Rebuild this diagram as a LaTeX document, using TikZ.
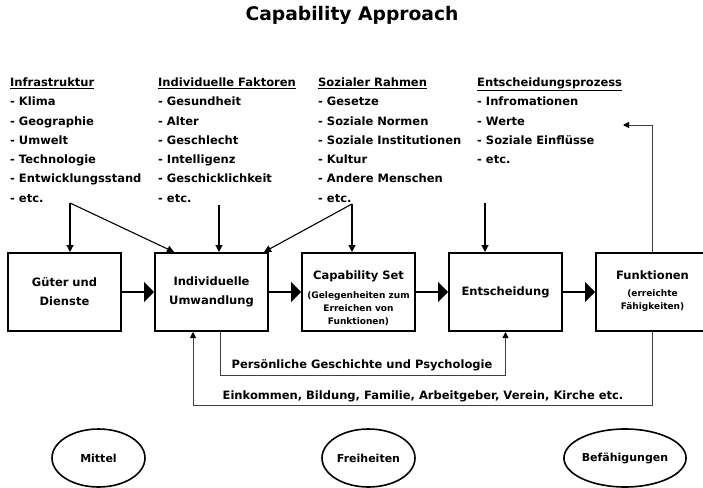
\documentclass[tikz,border=0pt]{standalone}
\usepackage{fontspec}
\setmainfont{DejaVu Sans}
\usetikzlibrary{arrows.meta,calc,positioning,shapes.geometric}
\newcommand{\klein}{\fontsize{9}{13}\selectfont}
\tikzset{
  box/.style={draw,line width=2pt,minimum width=113pt,minimum height=78pt,inner sep=0pt,align=center,font=\bfseries\fontsize{11.5}{19}\selectfont},
  boxtext/.style={inner sep=0pt,align=center,font=\bfseries\fontsize{11.5}{19}\selectfont},
  liste/.style={anchor=north west,inner sep=0pt,align=left,font=\bfseries\fontsize{11.5}{19.3}\selectfont},
  ziel/.style={draw,ellipse,line width=1.6pt,minimum width=93pt,minimum height=58pt,inner sep=0pt,font=\bfseries\fontsize{11}{13}\selectfont},
  fluss/.style={line width=2pt,-{Triangle[length=10pt,width=20pt]}},
  pfeil/.style={line width=1.1pt,-{Triangle[length=7pt,width=7pt]}},
  rueck/.style={line width=0.9pt,black!75,-{Triangle[length=6pt,width=6pt,color=black]}}
}
\begin{document}
\begin{tikzpicture}[x=1pt,y=-1pt]
\path[use as bounding box,clip] (0,0) rectangle (703,487);
\node[font=\bfseries\fontsize{18.7}{22}\selectfont] (titel) at (352,15) {Capability Approach};
% Einflussfaktoren
\node[liste] (infra) at (10,77.5) {\underline{Infrastruktur}\\- Klima\\- Geographie\\- Umwelt\\- Technologie\\- Entwicklungsstand\\- etc.};
\node[liste] (faktoren) at (158,77.5) {\underline{Individuelle Faktoren}\\- Gesundheit\\- Alter\\- Geschlecht\\- Intelligenz\\- Geschicklichkeit\\- etc.};
\node[liste] (rahmen) at (318,77.5) {\underline{Sozialer Rahmen}\\- Gesetze\\- Soziale Normen\\- Soziale Institutionen\\- Kultur\\- Andere Menschen\\- etc.};
\node[liste] (prozess) at (477,77.5) {\underline{Entscheidungsprozess}\\- Infromationen\\- Werte\\- Soziale Einflüsse\\- etc.};
% Kette
\node[box] (gueter) at (64.5,292) {Güter und\\Dienste};
\node[box] (umw) at (211.5,292) {Individuelle\\Umwandlung};
\node[box] (cset) at (358.5,292) {};
\node[box] (entsch) at (505.5,292) {Entscheidung};
\node[box] (funk) at (652.5,292) {};
\node[boxtext,anchor=north] (csettext) at (358.5,270.5) {Capability Set\\[0.3pt]\klein\begin{tabular}[t]{@{}c@{}}(Gelegenheiten zum\\Erreichen von\\Funktionen)\end{tabular}};
\node[boxtext,anchor=north] (funktext) at (652.5,270.5) {Funktionen\\[-2pt]\klein\begin{tabular}[t]{@{}c@{}}(erreichte\\Fähigkeiten)\end{tabular}};
\foreach \a/\b in {gueter/umw,umw/cset,cset/entsch,entsch/funk}
  \draw[fluss] (\a) -- (\b);
% Einfluesse von oben
\coordinate (qinfra) at (70,203);
\coordinate (qfakt) at (219,205);
\coordinate (qrahmen) at (352,204);
\coordinate (qproz) at (485,203);
\draw[pfeil] (qinfra) -- (qinfra |- gueter.north);
\draw[pfeil] (qinfra) -- ($(umw.north west)+(20,0)$);
\draw[pfeil] (qfakt) -- (qfakt |- umw.north);
\draw[pfeil] (qrahmen) -- ($(umw.north east)+(-5,0)$);
\draw[pfeil] (qrahmen) -- (qrahmen |- cset.north);
\draw[pfeil] (qproz) -- (qproz |- entsch.north);
% Rueckkopplungen
\coordinate (rziel) at (623,125);
\draw[rueck] (funk.north) |- (rziel);
\coordinate (pg) at (220,375);
\draw[rueck] (umw.south -| pg) -- (pg) -| (entsch.south);
\coordinate (ek) at (193,405);
\draw[rueck] (funk.south) |- (ek) -- (ek |- umw.south);
\node[boxtext,anchor=base] (geschichte) at (362,368) {Persönliche Geschichte und Psychologie};
\node[boxtext,anchor=base] (einkommen) at (423,399) {Einkommen, Bildung, Familie, Arbeitgeber, Verein, Kirche etc.};
% Ebenen
\node[ziel] (mittel) at (98.5,458) {Mittel};
\node[ziel] (freiheiten) at (368.5,458) {Freiheiten};
\node[ziel] (befaehigungen) at (625,458) {Befähigungen};
\end{tikzpicture}
\end{document}
